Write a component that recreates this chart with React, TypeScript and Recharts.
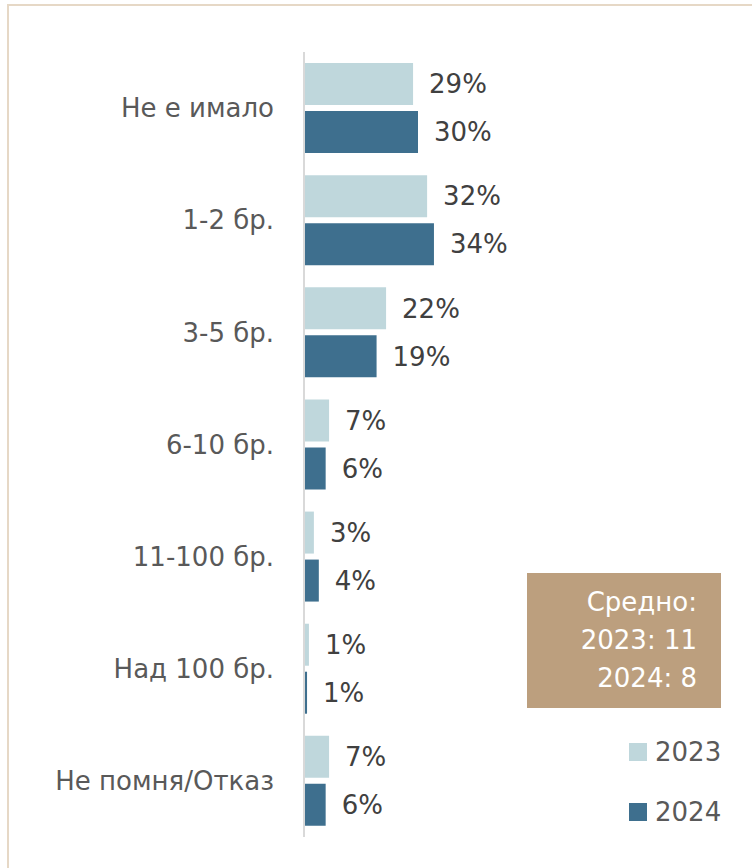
import { BarChart, Bar, XAxis, YAxis, LabelList } from 'recharts'

const categories = ['Не е имало', '1-2 бр.', '3-5 бр.', '6-10 бр.', '11-100 бр.', 'Над 100 бр.', 'Не помня/Отказ']
const values2023 = [28.7, 32.4, 21.6, 6.6, 2.6, 1.3, 6.6]
const values2024 = [30.0, 34.2, 19.1, 5.7, 3.9, 0.8, 5.7]
const seriesNames = ['2023', '2024']
const averageLines = ['Средно:', '2023: 11', '2024: 8']

const LIGHT = '#bfd7dc'
const DARK = '#3e6f8e'
const FONT = '"DejaVu Sans", sans-serif'

const data = categories.map((name, i) => ({
  name,
  y2023: values2023[i],
  y2024: values2024[i],
}))

const pct = (v: unknown) => `${Math.round(Number(v))}%`

export default function App() {
  return (
    <div
      style={{
        position: 'fixed',
        left: 0,
        top: 0,
        width: 752,
        height: 868,
        background: '#fff',
        overflow: 'hidden',
        fontFamily: FONT,
      }}
    >
      <div
        style={{
          position: 'absolute',
          left: 7,
          top: 4,
          width: 800,
          height: 900,
          borderTop: '2px solid #e6d8c6',
          borderLeft: '2px solid #e6d8c6',
        }}
      />
      <div style={{ position: 'absolute', left: 0, top: 0 }}>
        <BarChart
          width={752}
          height={868}
          data={data}
          layout="vertical"
          margin={{ top: 52, right: 258, bottom: 31, left: 0 }}
          barCategoryGap={11}
          barGap={6}
        >
          <XAxis type="number" domain={[0, 50]} hide />
          <YAxis
            type="category"
            dataKey="name"
            width={304}
            axisLine={{ stroke: '#d9d9d9', strokeWidth: 2 }}
            tickLine={false}
            tickMargin={24}
            tick={{ fill: '#595959', fontSize: 26, fontFamily: FONT }}
          />
          <Bar dataKey="y2023" name={seriesNames[0]} fill={LIGHT} barSize={42} isAnimationActive={false}>
            <LabelList
              dataKey="y2023"
              position="right"
              offset={16}
              formatter={pct}
              style={{ fill: '#404040', fontSize: 26, fontFamily: FONT }}
            />
          </Bar>
          <Bar dataKey="y2024" name={seriesNames[1]} fill={DARK} barSize={42} isAnimationActive={false}>
            <LabelList
              dataKey="y2024"
              position="right"
              offset={16}
              formatter={pct}
              style={{ fill: '#404040', fontSize: 26, fontFamily: FONT }}
            />
          </Bar>
        </BarChart>
      </div>
      <div
        style={{
          position: 'absolute',
          left: 527,
          top: 573,
          width: 194,
          height: 135,
          background: '#bc9f7e',
          color: '#fff',
          fontSize: 26,
          lineHeight: '38px',
          textAlign: 'right',
          boxSizing: 'border-box',
          paddingTop: 10,
          paddingRight: 24,
        }}
      >
        {averageLines.map((l) => (
          <div key={l}>{l}</div>
        ))}
      </div>
      {seriesNames.map((s, i) => (
        <div
          key={s}
          style={{
            position: 'absolute',
            left: 629,
            top: 737 + i * 60,
            height: 30,
            display: 'flex',
            alignItems: 'center',
            color: '#595959',
            fontSize: 26,
          }}
        >
          <span
            style={{
              width: 18,
              height: 18,
              background: i === 0 ? LIGHT : DARK,
              marginRight: 8,
              display: 'inline-block',
            }}
          />
          {s}
        </div>
      ))}
    </div>
  )
}
